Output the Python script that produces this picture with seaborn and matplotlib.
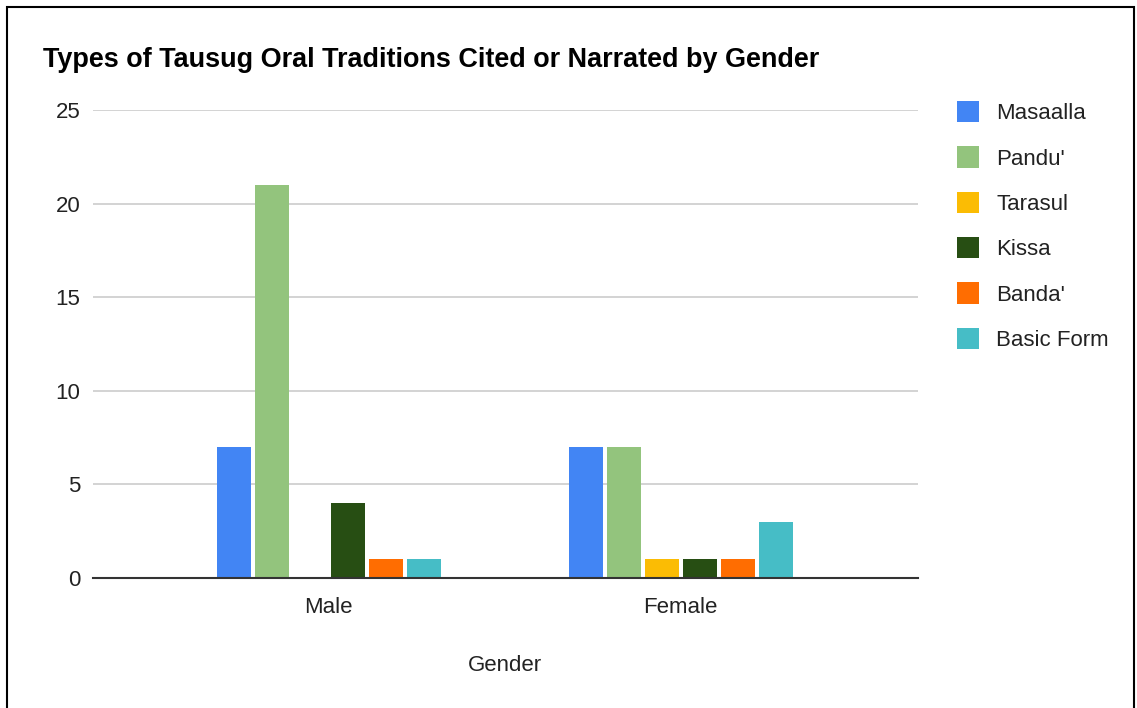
import pandas as pd
import matplotlib
matplotlib.use("Agg")
import matplotlib.pyplot as plt
import matplotlib.patches as mpatches
import seaborn as sns

# data
genders = ["Male", "Female"]
types = ["Masaalla", "Pandu'", "Tarasul", "Kissa", "Banda'", "Basic Form"]
male_counts = [7, 21, 0, 4, 1, 1]
female_counts = [7, 7, 1, 1, 1, 3]
colors = ["#4285f4", "#93c47d", "#fbbc04", "#274e13", "#ff6d01", "#46bdc6"]

rows = []
for t, m, f in zip(types, male_counts, female_counts):
    rows.append({"Gender": "Male", "Type": t, "Count": m})
    rows.append({"Gender": "Female", "Type": t, "Count": f})
df = pd.DataFrame(rows)

sns.set_theme(style="white")
plt.rcParams["font.family"] = ["Liberation Sans", "DejaVu Sans"]

fig = plt.figure(figsize=(11.37, 7.08), dpi=100)
ax = fig.add_axes([0.0818, 0.1836, 0.7252, 0.661])

sns.barplot(
    data=df, x="Gender", y="Count", hue="Type",
    order=genders, hue_order=types, palette=colors,
    width=0.648, gap=0.1, saturation=1, linewidth=0, ax=ax,
)

ax.set_ylim(0, 25)
ax.set_yticks([0, 5, 10, 15, 20, 25])
ax.set_xlim(-0.67, 1.673)
ax.yaxis.grid(True, color="#cccccc", linewidth=1.2)
ax.set_axisbelow(True)
for side in ["left", "right", "top"]:
    ax.spines[side].set_visible(False)
ax.spines["bottom"].set_color("#333333")
ax.spines["bottom"].set_linewidth(1.5)
ax.tick_params(axis="both", length=0, labelsize=16, colors="#222222")
ax.tick_params(axis="x", pad=14)
ax.tick_params(axis="y", pad=9)
ax.set_ylabel("")
ax.set_xlabel("Gender", fontsize=16, color="#222222", labelpad=26)

leg = ax.legend(
    loc="upper left", bbox_to_anchor=(1.048, 1.019), frameon=False,
    fontsize=16, handlelength=1.0, handleheight=1.1, handletextpad=0.75,
    labelspacing=0.995, borderaxespad=0, borderpad=0,
)
for txt in leg.get_texts():
    txt.set_color("#222222")

fig.text(0.038, 0.915, "Types of Tausug Oral Traditions Cited or Narrated by Gender",
         fontsize=19.45, fontweight="bold", color="#000000", va="center")

# outer frame
fig.patches.append(mpatches.Rectangle(
    (0.0065, -0.05), 0.991, 1.04, transform=fig.transFigure,
    fill=False, edgecolor="#000000", linewidth=1.5))

fig.savefig("out.png", dpi=100)
